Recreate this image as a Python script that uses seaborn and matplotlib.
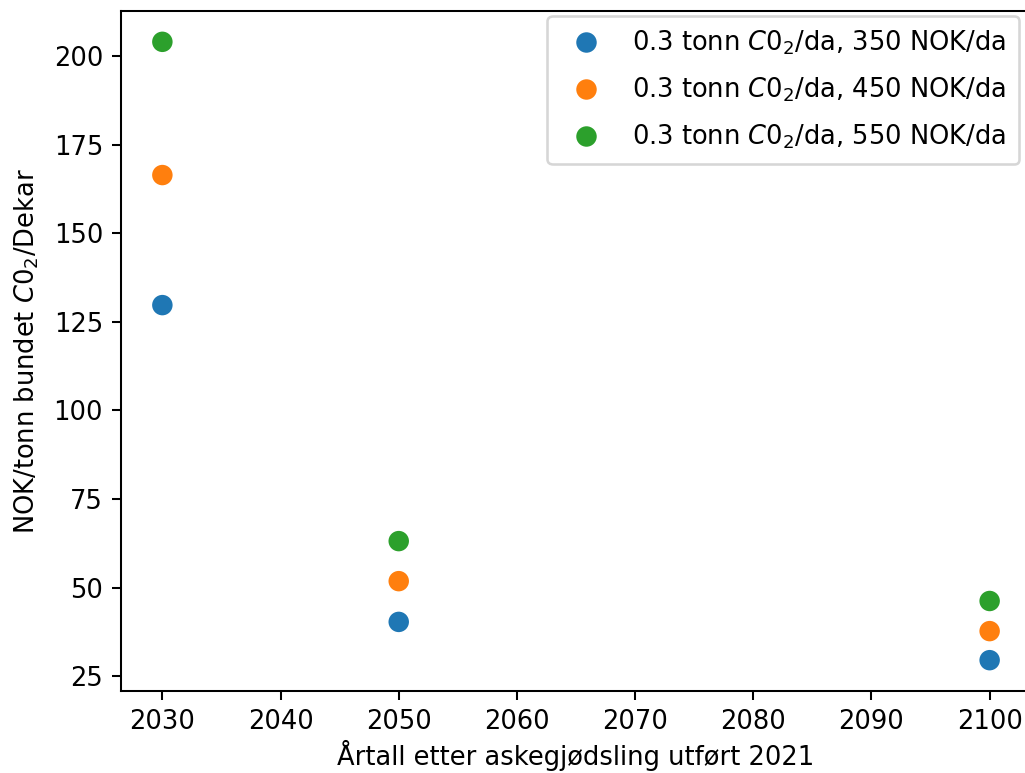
import matplotlib
matplotlib.use("Agg")
import matplotlib.pyplot as plt
import seaborn as sns
import pandas as pd

years = [2030, 2050, 2100]
labels = [r"0.3 tonn $C0_2$/da, 350 NOK/da",
          r"0.3 tonn $C0_2$/da, 450 NOK/da",
          r"0.3 tonn $C0_2$/da, 550 NOK/da"]
cost_350 = [129.7, 40.3, 29.5]
cost_450 = [166.4, 51.8, 37.7]
cost_550 = [204.0, 63.1, 46.2]

df = pd.concat([
    pd.DataFrame({"year": years, "value": cost_350, "serie": labels[0]}),
    pd.DataFrame({"year": years, "value": cost_450, "serie": labels[1]}),
    pd.DataFrame({"year": years, "value": cost_550, "serie": labels[2]}),
])

dpi = 185
fig = plt.figure(figsize=(1025 / dpi, 773 / dpi), dpi=dpi)
ax = fig.add_axes([121 / 1025, 82 / 773, (1031 - 121) / 1025, (691 - 11) / 773])

sns.scatterplot(data=df, x="year", y="value", hue="serie",
                palette=["#1f77b4", "#ff7f0e", "#2ca02c"], s=75, ax=ax)

ax.set_xlim(2026.5, 2103.5)
ax.set_ylim(20.8, 212.7)
ax.set_xticks([2030, 2040, 2050, 2060, 2070, 2080, 2090, 2100])
ax.set_yticks([25, 50, 75, 100, 125, 150, 175, 200])
ax.set_xlabel("Årtall etter askegjødsling utført 2021", labelpad=2)
ax.set_ylabel(r"NOK/tonn bundet $C0_2$/Dekar", labelpad=5)

ax.legend(loc="upper right", bbox_to_anchor=(1019 / 1025, 1 - 16 / 773),
          bbox_transform=fig.transFigure, borderaxespad=0,
          labelspacing=0.72, borderpad=0.5, title=None)

fig.savefig("out.png", dpi=dpi)
